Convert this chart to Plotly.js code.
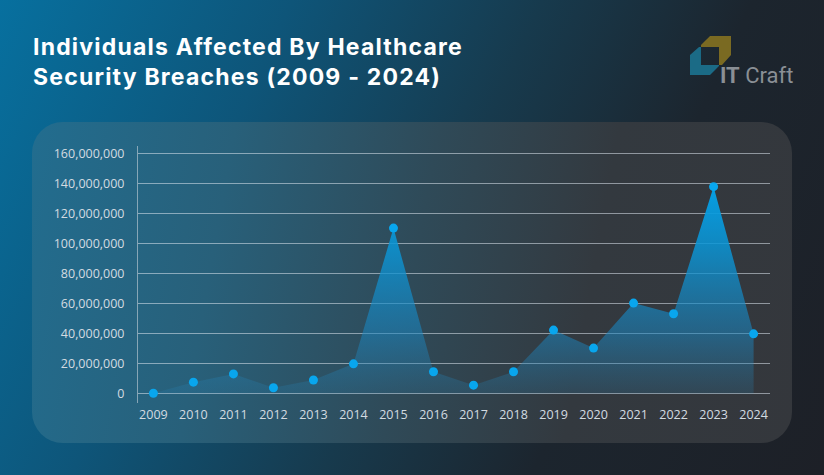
<!DOCTYPE html>
<html>
<head>
<meta charset="utf-8">
<script src="https://cdn.plot.ly/plotly-3.0.1.min.js"></script>
<style>
  html, body { margin: 0; padding: 0; width: 824px; height: 475px; overflow: hidden; }
  body { background: linear-gradient(115deg, #07709f 0%, #0e5579 28%, #173a4d 52%, #1c252e 72%, #1d2027 100%); position: relative; }
  #panel { position: absolute; left: 32px; top: 122px; width: 760px; height: 321px; border-radius: 31px;
    background: linear-gradient(100deg, #226d8f 0%, #28607a 25%, #2f4a58 50%, #33393f 72%, #34373c 100%); }
  #chart { position: absolute; left: 0; top: 0; width: 824px; height: 475px; }
  .gtitle { letter-spacing: 1.2px; }
</style>
</head>
<body>
<div id="panel"></div>
<div id="chart"></div>
<script>
const years = ['2009','2010','2011','2012','2013','2014','2015','2016','2017','2018','2019','2020','2021','2022','2023','2024'];
const affected = [135000, 7500000, 13000000, 3800000, 8900000, 19700000, 110200000, 14400000, 5500000, 14400000, 42200000, 30200000, 60200000, 53100000, 137800000, 39700000];
const yTicks = [0, 20000000, 40000000, 60000000, 80000000, 100000000, 120000000, 140000000, 160000000];
const yTickText = ['0','20,000,000','40,000,000','60,000,000','80,000,000','100,000,000','120,000,000','140,000,000','160,000,000'];
const titleText = 'Individuals Affected By Healthcare<br>Security Breaches (2009 - 2024)';

const trace = {
  type: 'scatter', mode: 'lines+markers',
  x: years, y: affected,
  line: { width: 0, color: 'rgba(0,0,0,0)' },
  marker: { size: 9, color: '#08a6ee' },
  fill: 'tozeroy',
  fillgradient: { type: 'vertical', start: 0, stop: 140000000,
    colorscale: [[0, 'rgba(40,130,180,0.2)'], [0.3, 'rgba(25,135,195,0.55)'], [0.7, 'rgba(10,150,215,0.85)'], [1, 'rgba(5,160,230,1)']] },
  hoverinfo: 'skip'
};

const layout = {
  width: 824, height: 475,
  paper_bgcolor: 'rgba(0,0,0,0)', plot_bgcolor: 'rgba(0,0,0,0)',
  margin: { l: 138, r: 54, t: 146, b: 72 },
  showlegend: false,
  title: { text: titleText, x: 33/824, xref: 'container', xanchor: 'left', y: 1 - 55/475, yref: 'container', yanchor: 'middle',
    font: { family: 'Inter, "Open Sans", sans-serif', size: 23, color: '#ffffff', weight: 700 } },
  xaxis: { type: 'category', range: [-0.385, 15.41], showgrid: false, zeroline: false, showline: false,
    ticks: '', tickfont: { family: '"Open Sans", sans-serif', size: 12.5, color: '#d3dbe1' }, ticklabelstandoff: 2 },
  yaxis: { range: [-6400000, 164900000], tickvals: yTicks, ticktext: yTickText, showgrid: true,
    gridcolor: 'rgba(220,230,238,0.55)', gridwidth: 1, zeroline: false, showline: true, linecolor: 'rgba(200,210,218,0.6)', linewidth: 1,
    ticks: '', ticklabelstandoff: 10, tickfont: { family: '"Open Sans", sans-serif', size: 12.5, color: '#d3dbe1' } },
  shapes: [
    { type: 'path', xref: 'paper', yref: 'paper', layer: 'above', line: { width: 0 }, fillcolor: '#7a6a22',
      path: pxPath([[701,45],[710,36],[731,36],[731,55],[722,65],[719,65],[719,47],[701,47]]) },
    { type: 'path', xref: 'paper', yref: 'paper', layer: 'above', line: { width: 0 }, fillcolor: '#1b6b86',
      path: pxPath([[690,55],[699,47],[701,47],[701,65],[719,65],[719,66],[710,75],[690,75]]) }
  ],
  annotations: [
    { xref: 'paper', yref: 'paper', x: px2x(718), y: py2y(75), xanchor: 'left', yanchor: 'middle', showarrow: false,
      text: '<b>IT</b> Craft', font: { family: 'Roboto, sans-serif', size: 22, color: '#8a8f95' } }
  ]
};

function px2x(px) { return (px - 138) / (824 - 138 - 54); }
function py2y(py) { return (475 - 72 - py) / (475 - 146 - 72); }
function pxPath(pts) { return pts.map((p, i) => (i ? 'L' : 'M') + px2x(p[0]).toFixed(4) + ',' + py2y(p[1]).toFixed(4)).join(' ') + ' Z'; }

Plotly.newPlot('chart', [trace], layout, { displayModeBar: false, staticPlot: true });
</script>
</body>
</html>
